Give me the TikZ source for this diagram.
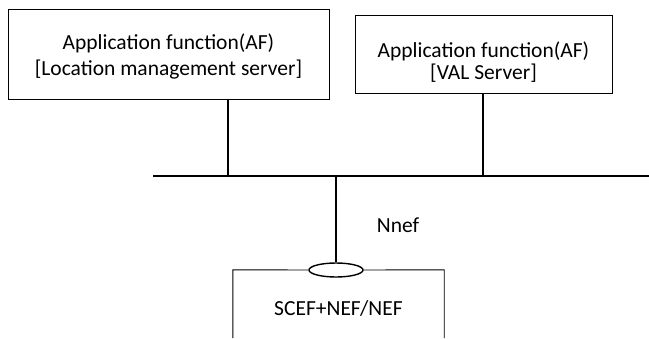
\documentclass[tikz,border=0pt]{standalone}
\usepackage{fontspec}
\setmainfont{Carlito}
\usepackage{tikz}
\usetikzlibrary{positioning, shapes.geometric}
\tikzset{afbox/.style={draw, line width=0.9pt, align=center, inner sep=0pt}}
\tikzset{link/.style={line width=1.6pt}}

\begin{document}
\begin{tikzpicture}[x=1pt, y=-1pt, every node/.style={font=\fontsize{21.5}{24}\selectfont}]
\useasboundingbox (0,0) rectangle (649,338);
\node[afbox, minimum width=321pt, minimum height=90pt] (lms) at (168.5,54) {\rule{0pt}{21pt}Application function(AF)\\[2pt]{[}Location management server{]}};
\node[afbox, minimum width=257pt, minimum height=78pt] (val) at (483.5,54) {\rule{0pt}{31pt}Application function(AF)\\[-2pt]{[}VAL Server{]}};
\node[minimum width=211pt, minimum height=68pt, inner sep=0pt] (nef) at (338.5,304) {\rule{0pt}{24pt}SCEF+NEF/NEF};
\node[draw, ellipse, fill=white, line width=1.4pt, minimum width=54pt, minimum height=14pt, inner sep=0pt] (port) at (336,270) {};
\node (nnef) at (398,225) {Nnef};
\coordinate (busL) at (153,176);
\coordinate (busR) at (649,176);
\coordinate (j1) at (228,176);
\coordinate (j2) at (483,176);
\coordinate (j3) at (336,176);
\draw[link] (busL) -- (busR);
\draw[link] (j1 |- lms.south) -- (j1);
\draw[link] (j2 |- val.south) -- (j2);
\draw[link] (j3) -- (port.north);
\draw[line width=0.9pt] (nef.south west) -- (nef.north west) -- (port.west);
\draw[line width=0.9pt] (port.east) -- (nef.north east) -- (nef.south east);
\end{tikzpicture}
\end{document}
